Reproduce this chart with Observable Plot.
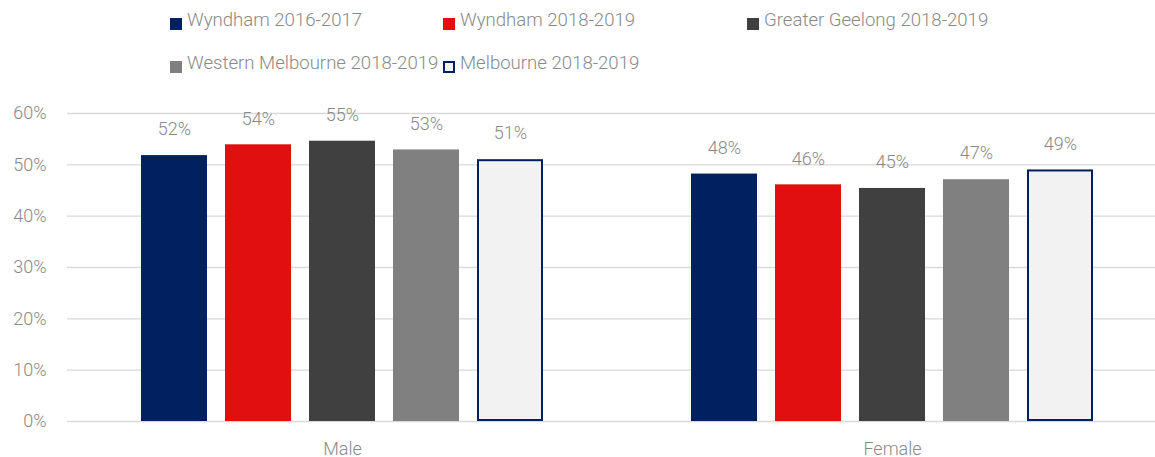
<!DOCTYPE html>
<html>
<head>
<meta charset="utf-8">
<script src="https://cdn.jsdelivr.net/npm/d3@7"></script>
<script src="https://cdn.jsdelivr.net/npm/@observablehq/plot@0.6"></script>
<style>
  html, body { margin: 0; padding: 0; background: #fff; overflow: hidden; }
  #legend { position: relative; width: 1155px; height: 95px; font-family: Roboto, "Noto Sans", sans-serif; font-weight: 300; font-size: 18.6px; color: #898989; }
  .sw { position: absolute; width: 12px; height: 12px; box-sizing: border-box; }
  .lt { position: absolute; line-height: 18px; white-space: nowrap; }
  #chart svg { display: block; }
</style>
</head>
<body>
<div id="legend"></div>
<div id="chart"></div>
<script>
const categories = ["Male", "Female"];
const series = ["Wyndham 2016-2017", "Wyndham 2018-2019", "Greater Geelong 2018-2019", "Western Melbourne 2018-2019", "Melbourne 2018-2019"];
const maleValues = [51.8, 53.9, 54.6, 52.9, 51.0];
const femaleValues = [48.2, 46.1, 45.4, 47.1, 49.0];
const colors = ["#002060", "#e10f10", "#404040", "#808080", "#f2f2f2"];
const outlineColor = "#002060";
const yTicks = [0, 0.1, 0.2, 0.3, 0.4, 0.5, 0.6];

const data = [];
categories.forEach((c, i) => {
  const vals = i === 0 ? maleValues : femaleValues;
  series.forEach((s, j) => data.push({category: c, series: s, value: vals[j] / 100}));
});

// Legend (HTML, above the SVG)
const legendPos = [[170, 0], [443, 0], [747, 0], [170, 1], [443, 1]];
const legend = document.getElementById("legend");
series.forEach((s, j) => {
  const [x, row] = legendPos[j];
  const sw = document.createElement("div");
  sw.className = "sw";
  sw.style.left = x + "px";
  sw.style.top = (18 + row * 43) + "px";
  sw.style.background = colors[j];
  if (j === 4) sw.style.border = "2px solid " + outlineColor;
  legend.appendChild(sw);
  const t = document.createElement("div");
  t.className = "lt";
  t.style.left = (x + 17) + "px";
  t.style.top = (11 + row * 43) + "px";
  t.textContent = s;
  legend.appendChild(t);
});

const pct = d => Math.round(d * 100) + "%";

const chart = Plot.plot({
  width: 1155,
  height: 362,
  marginLeft: 67,
  marginRight: 0,
  marginTop: 18,
  marginBottom: 36,
  style: {fontFamily: "Roboto, 'Noto Sans', sans-serif", fontWeight: 300, fontSize: "18px", color: "#898989", background: "#fff", overflow: "visible"},
  fx: {domain: categories, range: [67, 1167], padding: 0, axis: "bottom", tickSize: 0, tickPadding: 21, label: null},
  x: {domain: series, paddingInner: 0.22, paddingOuter: 0.87, axis: null},
  y: {domain: [0, 0.6], axis: null},
  color: {domain: series, range: colors},
  marks: [
    Plot.gridY(yTicks, {stroke: "#d9d9d9", strokeOpacity: 1, strokeWidth: 1.4}),
    Plot.axisY(yTicks, {tickSize: 0, tickPadding: 21, tickFormat: pct, label: null, fontSize: 18}),
    Plot.barY(data, {fx: "category", x: "series", y: "value", fill: "series"}),
    Plot.barY(data.filter(d => d.series === series[4]), {fx: "category", x: "series", y: "value", fill: "none", stroke: outlineColor, strokeWidth: 2, inset: 1}),
    Plot.text(data, {fx: "category", x: "series", y: "value", text: d => pct(d.value), dy: -26, fill: "#898989", fontSize: 18})
  ]
});
document.getElementById("chart").appendChild(chart);
</script>
</body>
</html>
